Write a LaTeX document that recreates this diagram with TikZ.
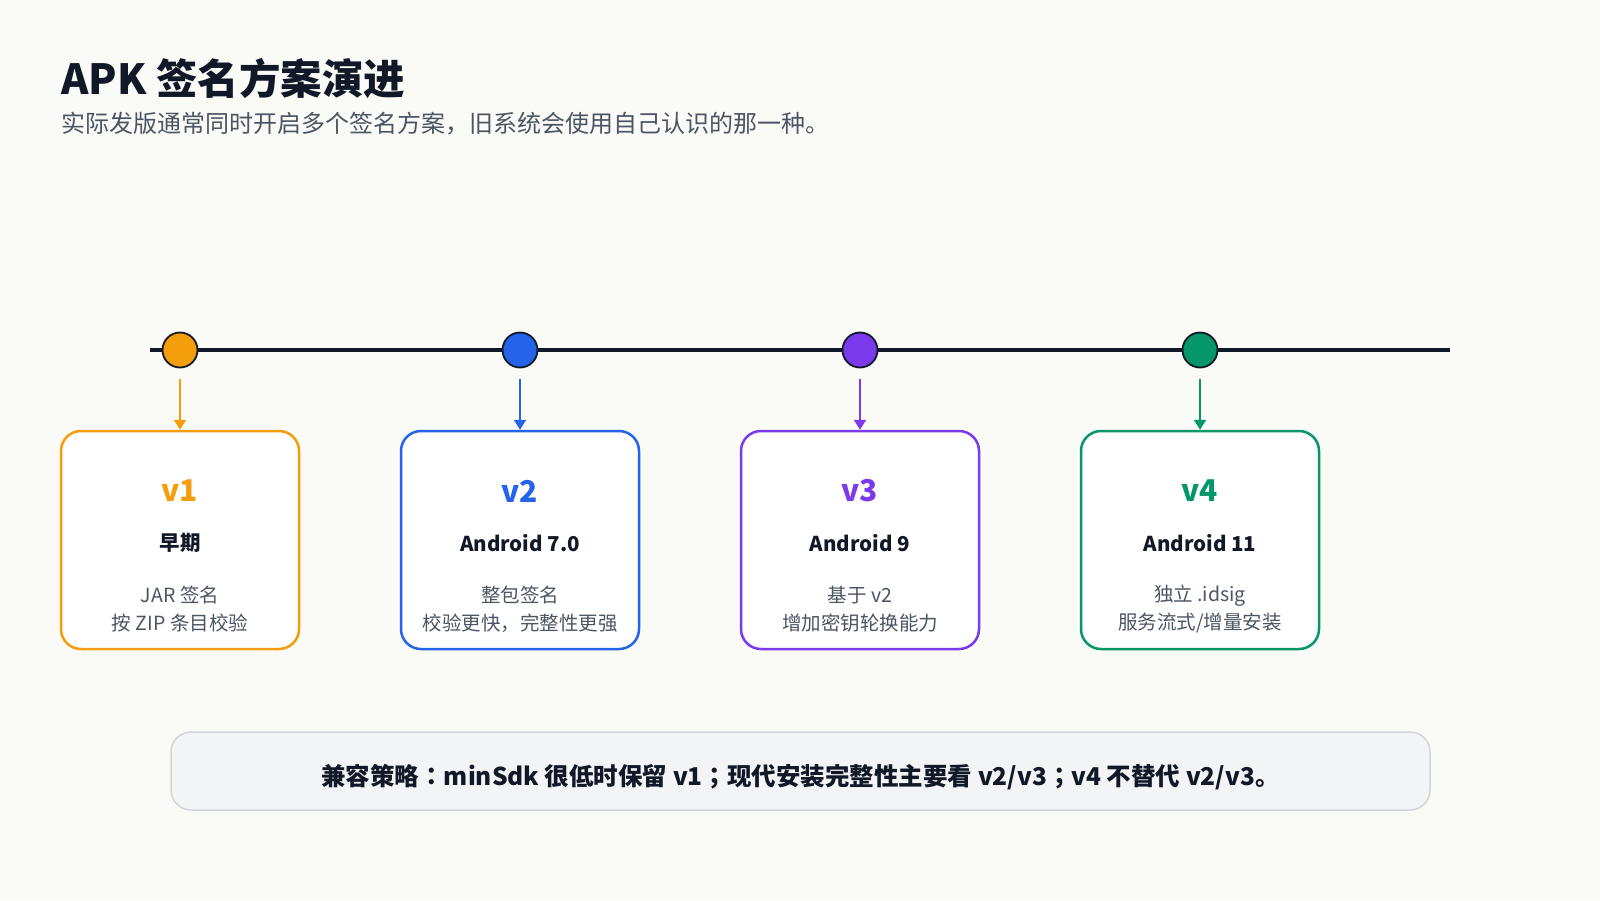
\documentclass[tikz,border=0pt]{standalone}
\usepackage{fontspec}
\setmainfont{Noto Sans CJK SC}
\newfontfamily\jpfont{Noto Sans CJK JP}
\usetikzlibrary{arrows.meta}
\definecolor{bg}{HTML}{FAFAF7}
\definecolor{ink}{HTML}{111827}
\definecolor{sub}{HTML}{4B5563}
\definecolor{cA}{HTML}{F59E0B}
\definecolor{cB}{HTML}{2563EB}
\definecolor{cC}{HTML}{7C3AED}
\definecolor{cD}{HTML}{059669}
\definecolor{notefill}{HTML}{F3F4F6}
\definecolor{noteline}{HTML}{D1D5DB}
\tikzset{
  dot/.style={circle,draw=ink,line width=1.8pt,minimum size=35pt,inner sep=0pt},
  card/.style={rounded corners=20pt,line width=2.5pt,fill=white,minimum width=238pt,minimum height=218pt,inner sep=0pt},
  ver/.style={font=\fontsize{30}{34}\selectfont\bfseries},
  era/.style={font=\fontsize{20.5}{24}\selectfont\bfseries,text=ink},
  desc/.style={font=\fontsize{19.5}{28}\selectfont,text=sub,align=center},
  pointer/.style={line width=2.2pt,-{Triangle[width=12pt,length=10pt]}}
}
\begin{document}
\begin{tikzpicture}[x=1pt,y=-1pt]
\fill[bg] (0,0) rectangle (1600,900);
\useasboundingbox (0,0) rectangle (1600,900);
\node[anchor=west,font=\fontsize{41.5}{44}\selectfont\bfseries,text=ink] (title) at (58,78) {APK 签名方案演进};
\node[anchor=west,font=\fontsize{24}{28}\selectfont,text=sub] (subtitle) at (58,124) {实际发版通常同时开启多个签名方案，旧系统会使用自己认识的那一种。};
\coordinate (ls) at (150,350);
\coordinate (le) at (1450,350);
\draw[ink,line width=4pt] (ls) -- (le);
\foreach \i/\x/\c in {1/180/cA,2/520/cB,3/860/cC,4/1200/cD}{
  \node[dot,fill=\c] (c\i) at (\x,350) {};
  \node[card,draw=\c] (b\i) at (\x,540) {};
  \draw[pointer,\c] ([yshift=-11pt]c\i.south) -- (b\i.north);
}
\node[ver,text=cA] (v1) at (180,491) {v1};
\node[ver,text=cB] (v2) at (520,491) {v2};
\node[ver,text=cC] (v3) at (860,491) {v3};
\node[ver,text=cD] (v4) at (1200,491) {v4};
\node[era] (e1) at (180,543) {早期};
\node[era] (e2) at (520,543) {Android 7.0};
\node[era] (e3) at (860,543) {Android 9};
\node[era] (e4) at (1200,543) {Android 11};
\node[desc] (d1) at (180,609) {JAR 签名\\按 ZIP 条目校验};
\node[desc] (d2) at (520,609) {整包签名\\校验更快，完整性更强};
\node[desc] (d3) at (860,609) {基于 v2\\增加密钥轮换能力};
\node[desc] (d4) at (1200,609) {独立 .idsig\\服务流式/增量安装};
\node[rounded corners=20pt,fill=notefill,draw=noteline,line width=1.5pt,minimum width=1259pt,minimum height=78pt,inner sep=0pt] (note) at (800.5,771) {};
\node[font=\fontsize{24.5}{28}\selectfont\jpfont\bfseries,text=ink] (notetext) at (800.5,777) {兼容策略：minSdk 很低时保留 v1；现代安装完整性主要看 v2/v3；v4 不替代 v2/v3。};
\end{tikzpicture}
\end{document}
